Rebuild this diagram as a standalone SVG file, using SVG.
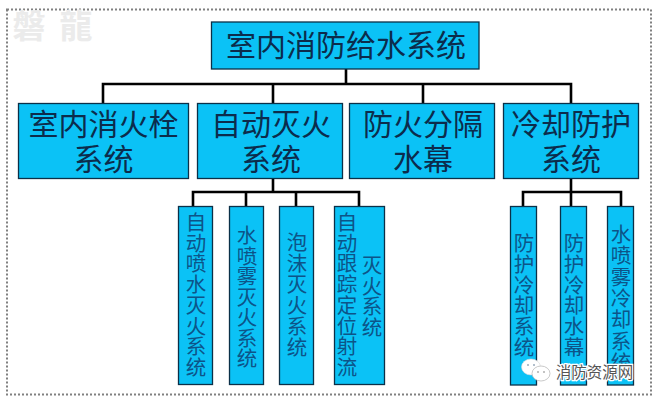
<svg xmlns="http://www.w3.org/2000/svg" width="655" height="401" viewBox="0 0 655 401">
<style>
text{font-family:"Noto Sans CJK SC","Noto Sans",sans-serif;text-anchor:middle}
.box{fill:#0bc2f6;stroke:#0b3048;stroke-width:1.3}
.big{font-size:30px;fill:#0c2c4c}
.sub{font-size:20.5px;fill:#0d5488;text-anchor:start;writing-mode:vertical-rl;text-orientation:upright}
.line{fill:none;stroke:#000;stroke-width:2.6}
</style>
<rect width="655" height="401" fill="#fff"/>
<rect id="border" x="7" y="9.500" width="644" height="385" fill="none" stroke="#808080" stroke-width="2" stroke-dasharray="2 2"/>
<g id="watermark-top"><text x="29" y="38" font-size="33" font-weight="700" fill="#ebebeb">磐</text><text x="76" y="38" font-size="33" font-weight="700" fill="#ebebeb">龍</text></g>
<g id="connectors">
<path class="line" d="M346 69V84M103 103V84H571V103M273 84V103M423 84V103"/>
<path class="line" d="M273 178V192M193 206V192H359V206M246 192V206M296 192V206"/>
<path class="line" d="M571 178V206M523 206V192H621V206"/>
</g>
<g id="root"><rect class="box" x="211.500" y="22" width="267.500" height="47"/><text class="big" x="346" y="56">室内消防给水系统</text></g>
<g id="n1"><rect class="box" x="18.500" y="103.500" width="170" height="75"/><text class="big" x="103.500" y="135">室内消火栓</text><text class="big" x="103.500" y="170">系统</text></g>
<g id="n2"><rect class="box" x="197.500" y="103.500" width="145" height="75"/><text class="big" x="271" y="135">自动灭火</text><text class="big" x="271" y="170">系统</text></g>
<g id="n3"><rect class="box" x="349.500" y="103.500" width="145" height="75"/><text class="big" x="423" y="135">防火分隔</text><text class="big" x="423" y="170">水幕</text></g>
<g id="n4"><rect class="box" x="503.500" y="103.500" width="135" height="75"/><text class="big" x="571" y="135">冷却防护</text><text class="big" x="571" y="170">系统</text></g>
<g id="s1"><rect class="box" x="178.500" y="206.500" width="34" height="178"/><text class="sub" x="196" y="212" letter-spacing=".2">自动喷水灭火系统</text></g>
<g id="s2"><rect class="box" x="229.500" y="206.500" width="34" height="178"/><text class="sub" x="247" y="225" letter-spacing="0">水喷雾灭火系统</text></g>
<g id="s3"><rect class="box" x="279.500" y="206.500" width="34" height="178"/><text class="sub" x="297" y="232" letter-spacing=".5">泡沫灭火系统</text></g>
<g id="s4"><rect class="box" x="334.500" y="206.500" width="50" height="178"/><text class="sub" x="347" y="212" letter-spacing=".2">自动跟踪定位射流</text><text class="sub" x="372" y="255" letter-spacing=".2">灭火系统</text></g>
<g id="c1"><rect class="box" x="510.500" y="206.500" width="26" height="178.500"/><text class="sub" x="524" y="233" letter-spacing=".3">防护冷却系统</text></g>
<g id="c2"><rect class="box" x="560.500" y="206.500" width="26" height="178.500"/><text class="sub" x="574" y="233" letter-spacing=".3">防护冷却水幕</text></g>
<g id="c3"><rect class="box" x="607.500" y="206.500" width="26" height="178.500"/><text class="sub" x="621" y="224" letter-spacing=".8">水喷雾冷却系统</text></g>
<g id="watermark-bottom">
<ellipse cx="531" cy="367" rx="9.500" ry="8" fill="#fff" stroke="#d8d8d8" stroke-width=".6"/>
<ellipse cx="541" cy="373.500" rx="9" ry="7.500" fill="#fff" stroke="#bbb" stroke-width=".8"/>
<circle cx="528" cy="365" r="1" fill="#9ab"/><circle cx="534" cy="365" r="1" fill="#9ab"/>
<circle cx="538" cy="372" r=".8" fill="#777"/><circle cx="544" cy="372" r=".8" fill="#777"/>
<text x="594.500" y="378" font-size="15.500" fill="#555" stroke="#fff" stroke-width="2.500" paint-order="stroke">消防资源网</text>
</g>
</svg>
